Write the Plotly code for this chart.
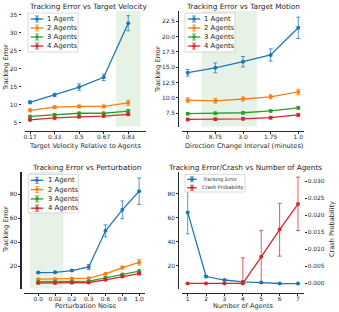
import plotly.graph_objects as go

W, H = 339, 312
FONT = "DejaVu Sans"
INK = "#262626"

# ---------------- data ----------------
agent_labels = ["1 Agent", "2 Agents", "3 Agents", "4 Agents"]
agent_colors = ["#1f77b4", "#ff7f0e", "#2ca02c", "#d62728"]
agent_err_colors = ["rgba(31,119,180,0.75)", "rgba(255,127,14,0.75)",
                    "rgba(44,160,44,0.75)", "rgba(214,39,40,0.75)"]

# Panel 1: target velocity
vel_ticks = ["0.17", "0.33", "0.5", "0.67", "0.83"]
vel_1 = [10.65, 12.7, 14.9, 17.6, 32.7]
vel_1_err = [0.4, 0.45, 0.9, 0.9, 2.1]
vel_2 = [8.4, 9.3, 9.5, 9.5, 10.5]
vel_2_err = [0.4, 0.4, 0.4, 0.4, 0.7]
vel_3 = [6.7, 7.2, 7.6, 7.6, 8.2]
vel_3_err = [0.3, 0.3, 0.3, 0.3, 0.35]
vel_4 = [5.75, 6.3, 6.6, 6.8, 7.3]
vel_4_err = [0.3, 0.3, 0.3, 0.3, 0.35]
vel_shade = (3.5, 4.5)

# Panel 2: target motion
mot_ticks = ["0", "8.75", "3.0", "1.75", "1.0"]
mot_1 = [14.1, 14.9, 15.9, 17.0, 21.45]
mot_1_err = [0.55, 0.8, 0.85, 1.0, 1.75]
mot_2 = [9.6, 9.5, 9.8, 10.15, 10.95]
mot_2_err = [0.4, 0.4, 0.35, 0.35, 0.45]
mot_3 = [7.4, 7.45, 7.55, 7.85, 8.35]
mot_3_err = [0.2, 0.2, 0.2, 0.2, 0.25]
mot_4 = [6.45, 6.5, 6.55, 6.75, 7.2]
mot_4_err = [0.2, 0.2, 0.2, 0.2, 0.25]
mot_shade = (0.5, 2.5)

# Panel 3: perturbation
pert_ticks = ["0.0", "0.02", "0.2", "0.3", "0.6", "0.8", "1.0"]
pert_1 = [14.8, 15.0, 16.4, 19.4, 49.5, 67.0, 82.5]
pert_1_err = [0.6, 0.6, 0.7, 2.0, 5.0, 7.4, 11.0]
pert_2 = [9.3, 9.3, 9.8, 10.1, 13.7, 18.9, 23.3]
pert_2_err = [0.6, 0.6, 0.6, 0.6, 0.8, 1.2, 2.3]
pert_3 = [7.1, 7.1, 7.3, 7.6, 10.4, 13.1, 15.9]
pert_3_err = [0.5, 0.5, 0.5, 0.5, 0.8, 1.0, 1.2]
pert_4 = [6.0, 6.0, 6.2, 6.5, 8.7, 11.5, 13.9]
pert_4_err = [0.5, 0.5, 0.5, 0.5, 0.7, 0.9, 1.0]
pert_shade = (-0.5, 1.5)

# Panel 4: number of agents
n_agents = [1, 2, 3, 4, 5, 6, 7]
track_err_mean = [64.5, 10.8, 7.9, 6.4, 5.8, 5.0, 4.9]
track_err_plus = [27.0, 0.9, 0.6, 0.5, 0.4, 0.3, 0.3]
track_err_minus = [18.0, 0.9, 0.6, 0.5, 0.4, 0.3, 0.3]
crash_prob = [0.0, 0.0, 0.0, 0.0, 0.0078, 0.0158, 0.0233]
crash_plus = [0.0, 0.0, 0.0, 0.0075, 0.0077, 0.0077, 0.0079]
crash_minus = [0.0, 0.0, 0.0, 0.0, 0.0078, 0.0078, 0.0078]
br_labels = ["Tracking Error", "Crash Probability"]
br_colors = ["#1f77b4", "#d62728"]
br_err_colors = ["rgba(31,119,180,0.75)", "rgba(214,39,40,0.75)"]


def fx(px):
    return px / W


def fy(py):
    return 1 - py / H


fig = go.Figure()

panels = [
    dict(ax="", ticks=vel_ticks, series=[vel_1, vel_2, vel_3, vel_4],
         errs=[vel_1_err, vel_2_err, vel_3_err, vel_4_err], shade=vel_shade),
    dict(ax="2", ticks=mot_ticks, series=[mot_1, mot_2, mot_3, mot_4],
         errs=[mot_1_err, mot_2_err, mot_3_err, mot_4_err], shade=mot_shade),
    dict(ax="3", ticks=pert_ticks, series=[pert_1, pert_2, pert_3, pert_4],
         errs=[pert_1_err, pert_2_err, pert_3_err, pert_4_err], shade=pert_shade),
]

for p in panels:
    xs = list(range(len(p["ticks"])))
    for lab, col, ecol, ys, es in zip(agent_labels, agent_colors, agent_err_colors,
                                      p["series"], p["errs"]):
        fig.add_trace(go.Scatter(
            x=xs, y=ys, mode="lines+markers", name=lab, showlegend=False,
            line=dict(color=col, width=1.3), marker=dict(color=col, size=4),
            error_y=dict(type="data", array=es, color=ecol, thickness=1, width=2),
            xaxis="x" + p["ax"], yaxis="y" + p["ax"]))
    fig.add_shape(type="rect", xref="x" + p["ax"], yref="y" + p["ax"] + " domain",
                  x0=p["shade"][0], x1=p["shade"][1], y0=0, y1=1,
                  fillcolor="rgba(0,128,0,0.1)", line=dict(width=0), layer="below")

# Panel 4 traces
fig.add_trace(go.Scatter(
    x=n_agents, y=track_err_mean, mode="lines+markers", name=br_labels[0], showlegend=False,
    line=dict(color=br_colors[0], width=1.3), marker=dict(color=br_colors[0], size=4),
    error_y=dict(type="data", array=track_err_plus, arrayminus=track_err_minus,
                 color=br_err_colors[0], thickness=1, width=2),
    xaxis="x4", yaxis="y4"))
fig.add_trace(go.Scatter(
    x=n_agents, y=crash_prob, mode="lines+markers", name=br_labels[1], showlegend=False,
    line=dict(color=br_colors[1], width=1.3), marker=dict(color=br_colors[1], size=4),
    error_y=dict(type="data", array=crash_plus, arrayminus=crash_minus,
                 color=br_err_colors[1], thickness=1, width=2),
    xaxis="x4", yaxis="y5"))

# ---------------- axes ----------------
tickfont = dict(family=FONT, size=5.9, color=INK)
OFF = 4
# plot areas in px: (left, right, top, bottom)
areas = {
    "": (24.5, 146.0, 11.0, 126.5),
    "2": (182.2, 303.8, 11.0, 126.5),
    "3": (24.4, 144.6, 172.0, 288.5),
    "4": (182.2, 303.5, 172.0, 288.5),
}
xranges = {"": [-0.225, 4.725], "2": [-0.2, 4.2], "3": [-0.825, 6.325], "4": [0.7, 7.3]}
yranges = {"": [3.9, 36.1], "2": [5.3, 24.2], "3": [1.5, 98.5], "4": [0.8, 98.3]}
xtv = {"": (list(range(5)), vel_ticks), "2": (list(range(5)), mot_ticks),
       "3": (list(range(7)), pert_ticks), "4": (n_agents, [str(v) for v in n_agents])}
ytv = {"": [5, 10, 15, 20, 25, 30, 35], "2": [7.5, 10, 12.5, 15, 17.5, 20, 22.5],
       "3": [20, 40, 60, 80], "4": [20, 40, 60, 80]}
yfmt = {"": "d", "2": ".1f", "3": "d", "4": "d"}
yline = {"": False, "2": True, "3": True, "4": True}

layout = {}
for k, (l, r, t, b) in areas.items():
    layout["xaxis" + k] = dict(
        domain=[fx(l), fx(r)], range=xranges[k], anchor="free", position=fy(b + OFF),
        showgrid=False, zeroline=False, showline=True, linecolor=INK, linewidth=1.2,
        ticks="outside", ticklen=2, tickwidth=1, tickcolor=INK, ticklabelstandoff=-2,
        tickvals=xtv[k][0], ticktext=xtv[k][1], tickfont=tickfont)
    layout["yaxis" + k] = dict(
        domain=[fy(b), fy(t)], range=yranges[k], anchor="free", position=fx(l - OFF),
        showgrid=False, zeroline=False, showline=yline[k], linecolor=INK, linewidth=1.2,
        ticks="outside", ticklen=2, tickwidth=1, tickcolor=INK,
        tickvals=ytv[k], tickformat=yfmt[k], tickfont=tickfont)

l4, r4, t4, b4 = areas["4"]
layout["yaxis5"] = dict(
    overlaying="y4", side="right", anchor="free", position=fx(r4),
    range=[-0.0015, 0.0327], showgrid=False, zeroline=False, showline=False,
    ticks="outside", ticklen=2, tickwidth=1, tickcolor=INK,
    tickvals=[0, 0.005, 0.01, 0.015, 0.02, 0.025, 0.03], tickformat=".3f",
    tickfont=tickfont)

fig.update_layout(
    width=W, height=H, autosize=False, margin=dict(l=0, r=0, t=0, b=0),
    paper_bgcolor="white", plot_bgcolor="white", showlegend=False,
    font=dict(family=FONT, color=INK), **layout)

# ---------------- text ----------------
def text(x, y, s, size, angle=0, xanchor="center"):
    fig.add_annotation(x=fx(x), y=fy(y), xref="paper", yref="paper", text=s,
                       showarrow=False, textangle=angle, xanchor=xanchor, yanchor="middle",
                       font=dict(family=FONT, size=size, color=INK))

TS, LS = 7.3, 6.6
text(88, 6, "Tracking Error vs Target Velocity", TS)
text(243, 6, "Tracking Error vs Target Motion", TS)
text(86, 167.5, "Tracking Error vs Perturbation", TS)
text(245, 167.5, "Tracking Error/Crash vs Number of Agents", TS)
text(85, 145.8, "Target Velocity Relative to Agents", LS)
text(243.5, 145.8, "Direction Change Interval (minutes)", LS)
text(85, 306.3, "Perturbation Noise", LS)
text(243, 306.3, "Number of Agents", LS)
text(6, 68, "Tracking Error", LS, angle=-90)
text(158, 70, "Tracking Error", LS, angle=-90)
text(6, 230, "Tracking Error", LS, angle=-90)
text(332, 229, "Crash Probability", LS, angle=-90)


# ---------------- legends ----------------
def legend(box, labels, colors, ecolors, y0, dy, lx0, lx1, tx, size, eh):
    x0, yb0, x1, yb1 = box
    fig.add_shape(type="rect", xref="paper", yref="paper", x0=fx(x0), x1=fx(x1),
                  y0=fy(yb1), y1=fy(yb0), fillcolor="rgba(255,255,255,0.85)",
                  line=dict(color="#d0d0d0", width=0.8), layer="above")
    for i, (lab, col, ecol) in enumerate(zip(labels, colors, ecolors)):
        y = y0 + i * dy
        xm = (lx0 + lx1) / 2
        fig.add_shape(type="line", xref="paper", yref="paper", x0=fx(lx0), x1=fx(lx1),
                      y0=fy(y), y1=fy(y), line=dict(color=col, width=1.3), layer="above")
        fig.add_shape(type="line", xref="paper", yref="paper", x0=fx(xm), x1=fx(xm),
                      y0=fy(y - eh), y1=fy(y + eh), line=dict(color=ecol, width=1), layer="above")
        for yy in (y - eh, y + eh):
            fig.add_shape(type="line", xref="paper", yref="paper", x0=fx(xm - 2), x1=fx(xm + 2),
                          y0=fy(yy), y1=fy(yy), line=dict(color=ecol, width=1), layer="above")
        fig.add_shape(type="circle", xref="paper", yref="paper", x0=fx(xm - 1.8), x1=fx(xm + 1.8),
                      y0=fy(y + 1.8), y1=fy(y - 1.8), fillcolor=col, line=dict(width=0),
                      layer="above")
        text(tx, y, lab, size, xanchor="left")


legend((28, 13, 78, 52), agent_labels, agent_colors, agent_err_colors,
       19, 9, 30.7, 43.3, 45.2, 6.8, 3)
legend((185, 13, 235, 52), agent_labels, agent_colors, agent_err_colors,
       19, 9, 187.7, 200.3, 202.2, 6.8, 3)
legend((28.3, 174.3, 78.3, 213), agent_labels, agent_colors, agent_err_colors,
       180.3, 9.3, 30.7, 43.3, 45.5, 6.8, 3)
legend((185, 174.3, 245, 192), br_labels, br_colors, br_err_colors,
       179.3, 8.4, 187.3, 196.7, 200.5, 4.9, 2.5)

fig.write_html(
    "out.html",
    config={"displayModeBar": False, "staticPlot": True},
    post_script="document.body.style.margin='0';document.body.style.padding='0';",
)
